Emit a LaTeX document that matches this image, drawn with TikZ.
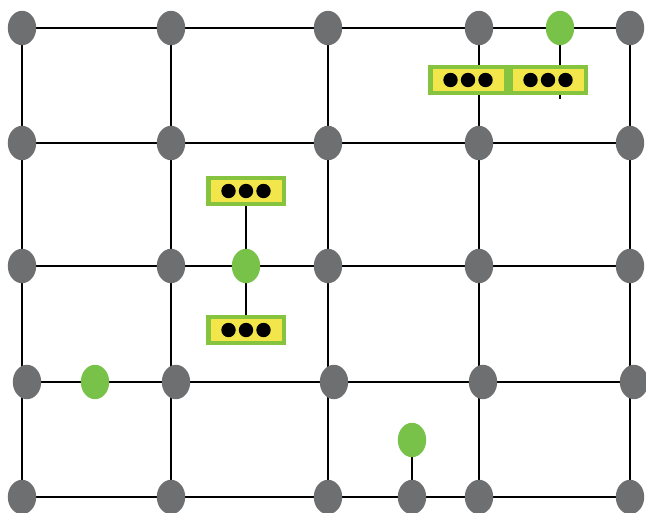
\documentclass[tikz,border=0pt]{standalone}
\usetikzlibrary{shapes.geometric,backgrounds,calc}
\definecolor{siteGray}{HTML}{6E6F71}
\definecolor{ionGreen}{HTML}{78C24A}
\definecolor{cellYellow}{HTML}{F2E64B}
\definecolor{cellGreen}{HTML}{86C440}
\tikzset{
  site/.style={ellipse, fill=siteGray, minimum width=0.71cm, minimum height=0.86cm, inner sep=0pt},
  ion/.style={site, fill=ionGreen},
  cell/.style={rectangle, fill=cellYellow, draw=cellGreen, line width=3pt, minimum width=1.88cm, minimum height=0.66cm, inner sep=0pt},
  bond/.style={line width=2pt, black}
}
\begin{document}
\begin{tikzpicture}[x=0.025cm, y=-0.025cm]
\useasboundingbox (0,0) rectangle (646,513);
% lattice sites, row by row
\foreach \c/\x in {1/22,2/171,3/328,4/479,5/630}
    \node[site] (n1\c) at (\x,28) {};
\foreach \c/\x in {1/22,2/171,3/328,4/479,5/630}
    \node[site] (n2\c) at (\x,143) {};
\foreach \c/\x in {1/22,2/171,3/328,4/479,5/630}
    \node[site] (n3\c) at (\x,266) {};
\foreach \c/\x in {1/27,2/176,3/334,4/483,5/634}
    \node[site] (n4\c) at (\x,382) {};
\foreach \c/\x in {1/22,2/171,3/328,4/479,5/630}
    \node[site] (n5\c) at (\x,497) {};
\node[site] (x5) at (412,497) {};
% green ions
\node[ion] (g1) at (560,28) {};
\node[ion] (g2) at (246,266) {};
\node[ion] (g3) at (95,382) {};
\node[ion] (g4) at (412,440) {};
% yellow cells
\node[cell] (b1) at (468,80) {};
\node[cell] (b2) at (548,80) {};
\node[cell] (b3) at (246,191) {};
\node[cell] (b4) at (246,330) {};
\foreach \b in {b1,b2,b3,b4}
    \foreach \d in {-1,0,1}
        \fill ($(\b)+(\d*17.5,0)$) circle (0.18cm);
\coordinate (t1) at (560,99);
\begin{pgfonlayer}{background}
\draw[bond] (n11)--(n12)--(n13)--(n14)--(g1)--(n15);
\draw[bond] (n21)--(n22)--(n23)--(n24)--(n25);
\draw[bond] (n31)--(n32)--(g2)--(n33)--(n34)--(n35);
\draw[bond] (n41)--(g3)--(n42)--(n43)--(n44)--(n45);
\draw[bond] (n51)--(n52)--(n53)--(x5)--(n54)--(n55);
\foreach \c in {1,...,5}
    \draw[bond] (n1\c)--(n5\c);
\draw[bond] (b3)--(g2)--(b4);
\draw[bond] (g1)--(t1);
\draw[bond] (g4)--(x5);
\end{pgfonlayer}
\end{tikzpicture}
\end{document}
